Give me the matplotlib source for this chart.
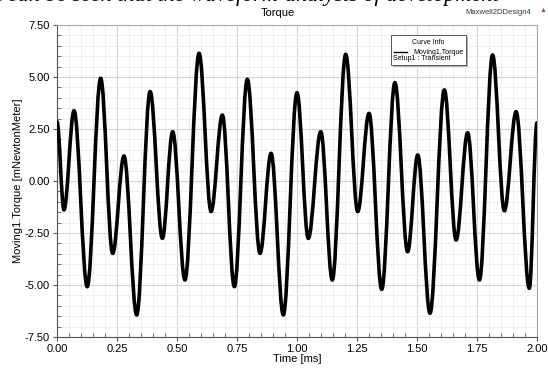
import numpy as np
import matplotlib.pyplot as plt
from matplotlib.patches import Rectangle, PathPatch
from matplotlib.path import Path
from matplotlib.ticker import MultipleLocator

# peaks and troughs
time_ms = [0.000, 0.029, 0.071, 0.126, 0.182, 0.232, 0.279, 0.332, 0.388, 0.439,
           0.482, 0.533, 0.592, 0.642, 0.689, 0.739, 0.793, 0.846, 0.892, 0.943,
           1.000, 1.047, 1.099, 1.147, 1.203, 1.253, 1.300, 1.353, 1.408, 1.461,
           1.503, 1.554, 1.614, 1.663, 1.711, 1.760, 1.815, 1.864, 1.913, 1.968,
           2.000]
torque = [2.85, -1.39, 3.38, -5.08, 4.94, -3.48, 1.20, -6.44, 4.30, -2.76,
          2.37, -4.76, 6.14, -1.47, 3.17, -5.08, 4.89, -3.48, 1.33, -6.44,
          4.25, -2.76, 2.37, -4.76, 6.09, -1.47, 3.25, -5.21, 4.73, -3.40,
          1.25, -6.36, 4.38, -2.84, 2.32, -4.76, 6.06, -1.43, 3.33, -5.16,
          2.80]

x_ticks = [0.0, 0.25, 0.5, 0.75, 1.0, 1.25, 1.5, 1.75, 2.0]
y_ticks = [-7.5, -5.0, -2.5, 0.0, 2.5, 5.0, 7.5]

plt.rcParams['font.family'] = ['Liberation Sans', 'DejaVu Sans']

fig = plt.figure(figsize=(5.48, 3.69), dpi=100)
ax = fig.add_axes([57 / 548, 1 - 337 / 369, 480 / 548, 312 / 369])

# smooth curve: cubic segments between extrema, flat tangents at each extremum
h = 0.36
verts = [(time_ms[0], torque[0])]
codes = [Path.MOVETO]
for i in range(1, len(time_ms)):
    x0, y0 = time_ms[i - 1], torque[i - 1]
    x1, y1 = time_ms[i], torque[i]
    dx = x1 - x0
    verts += [(x0 + h * dx, y0), (x1 - h * dx, y1), (x1, y1)]
    codes += [Path.CURVE4] * 3
ax.add_patch(PathPatch(Path(verts, codes), facecolor='none', edgecolor='black',
                       lw=2.6, joinstyle='round', capstyle='round', zorder=3))

ax.set_xlim(0, 2)
ax.set_ylim(-7.5, 7.5)
ax.set_xticks(x_ticks)
ax.set_xticklabels(['%.2f' % v for v in x_ticks])
ax.set_yticks(y_ticks)
ax.set_yticklabels(['%.2f' % v for v in y_ticks])
ax.xaxis.set_minor_locator(MultipleLocator(0.05))
ax.yaxis.set_minor_locator(MultipleLocator(0.5))

ax.grid(which='major', color='#d4d4d4', lw=0.8)
ax.grid(which='minor', color='#ececec', lw=0.6)
ax.set_axisbelow(True)

ax.tick_params(which='major', direction='out', length=3, width=0.8,
               color='#555555', labelsize=8, pad=2)
ax.tick_params(which='minor', direction='in', length=3, width=0.6,
               color='#555555')
ax.tick_params(top=False, right=False, which='both')

for s in ['left', 'bottom']:
    ax.spines[s].set_color('#555555')
    ax.spines[s].set_linewidth(0.8)
for s in ['top', 'right']:
    ax.spines[s].set_color('#aaaaaa')
    ax.spines[s].set_linewidth(0.8)

ax.set_xlabel('Time [ms]', fontsize=8, labelpad=0)
ax.set_ylabel('Moving1.Torque [mNewtonMeter]', fontsize=8, labelpad=1)

# cropped line of body text above the chart (only its lower edge is visible)
fig.text(285 / 548, 1 - 1.0 / 369, 'analysis of development', fontsize=16,
         family='Liberation Serif', style='italic', ha='left', va='baseline')
fig.text(278 / 548, 1 - 1.0 / 369, 'Figure 4 it can be seen that the waveform',
         fontsize=16, family='Liberation Serif', style='italic', ha='right',
         va='baseline')

fig.text(278 / 548, 1 - 13 / 369, 'Torque', fontsize=8, ha='center', va='center')
fig.text(498 / 548, 1 - 13 / 369, 'Maxwell2DDesign4', fontsize=5.5,
         ha='center', va='center', color='#333333')
fig.text(543 / 548, 1 - 11 / 369, '\u25b2', fontsize=5, ha='center',
         va='center', color='#c83c3c')

# curve info box
bx0, bx1 = (391 - 57) / 480, (466 - 57) / 480
by0, by1 = (337 - 65) / 312, (337 - 35) / 312
ax.add_patch(Rectangle((bx0 + 0.004, by0 - 0.008), bx1 - bx0, by1 - by0,
                       transform=ax.transAxes, facecolor='#b0b0b0',
                       edgecolor='none', zorder=4))
ax.add_patch(Rectangle((bx0, by0), bx1 - bx0, by1 - by0, transform=ax.transAxes,
                       facecolor='white', edgecolor='#555555', lw=0.7, zorder=5))
ax.text((bx0 + bx1) / 2, (337 - 42) / 312, 'Curve Info', fontsize=5,
        ha='center', va='center', transform=ax.transAxes, zorder=6)
ax.plot([(394 - 57) / 480, (407 - 57) / 480], [(337 - 52) / 312] * 2,
        color='black', lw=1.0, transform=ax.transAxes, zorder=6)
ax.text((464 - 57) / 480, (337 - 52) / 312, 'Moving1.Torque', fontsize=5,
        ha='right', va='center', transform=ax.transAxes, zorder=6)
ax.text((393 - 57) / 480, (337 - 59) / 312, 'Setup1 : Transient', fontsize=5,
        ha='left', va='center', transform=ax.transAxes, zorder=6)

fig.savefig('out.png', dpi=100)
